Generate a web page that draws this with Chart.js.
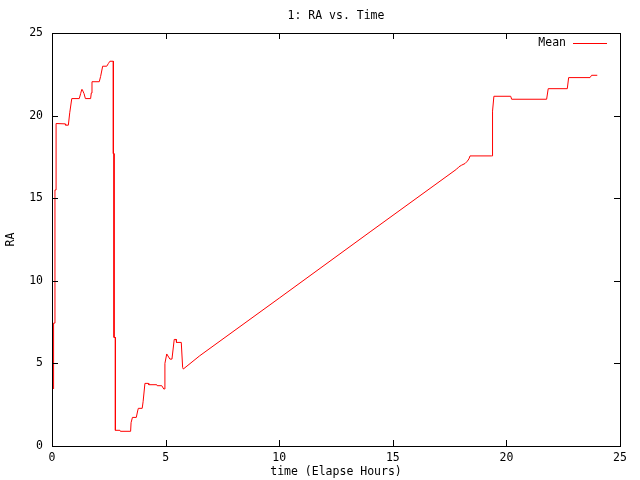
<!DOCTYPE html>
<html>
<head>
<meta charset="utf-8">
<title>1: RA vs. Time</title>
<script src="https://cdn.jsdelivr.net/npm/chart.js@4/dist/chart.umd.min.js"></script>
<style>
  html, body { margin: 0; padding: 0; background: #fff; }
  canvas { display: block; }
</style>
</head>
<body>
<canvas id="raChart" width="640" height="480"></canvas>
<script>
// values
const chartTitle = '1: RA vs. Time';
const xTitle = 'time (Elapse Hours)';
const yTitle = 'RA';
const seriesName = 'Mean';
const axisTicks = [0, 5, 10, 15, 20, 25];

const hours = [
    0.07, 0.07, 0.13, 0.13, 0.18, 0.18, 0.58, 0.60, 0.72, 0.78, 0.87,
    1.20, 1.26, 1.31, 1.33, 1.41, 1.47, 1.70, 1.73, 1.76,
    2.08, 2.14, 2.23, 2.41, 2.48, 2.55, 2.70, 2.70, 2.73, 2.73, 2.79, 2.79, 2.99,
    3.01, 3.46, 3.48, 3.54, 3.71, 3.77, 3.80, 3.97,
    4.01, 4.09, 4.24, 4.26, 4.61, 4.63, 4.83, 4.92, 4.95,
    4.97, 5.05, 5.19, 5.28, 5.38, 5.46, 5.48, 5.69, 5.75, 5.78,
    6.50, 10.00, 14.00, 17.81, 17.91, 18.03, 18.18, 18.28, 18.35, 18.40,
    19.34, 19.37, 19.37, 19.41, 19.45, 20.19, 20.23, 21.77, 21.84,
    22.68, 22.74, 23.68, 23.75, 24.00
];
const raMean = [
    3.45, 7.44, 7.44, 15.50, 15.50, 19.52, 19.50, 19.42, 19.42, 20.17, 21.03,
    21.03, 21.33, 21.58, 21.58, 21.33, 21.03, 21.03, 21.37, 22.05,
    22.05, 22.37, 22.99, 22.99, 23.15, 23.29, 23.29, 17.70, 17.70, 6.57, 6.57, 0.95, 0.95,
    0.89, 0.89, 1.41, 1.73, 1.73, 2.12, 2.28, 2.28,
    2.68, 3.79, 3.79, 3.71, 3.71, 3.65, 3.65, 3.45, 3.45,
    5.00, 5.57, 5.26, 5.26, 6.45, 6.45, 6.27, 6.27, 4.76, 4.66,
    5.46, 8.95, 12.96, 16.76, 16.90, 17.00, 17.10, 17.24, 17.38, 17.56,
    17.56, 17.56, 18.45, 20.27, 21.17, 21.17, 20.99, 20.99, 21.63,
    21.63, 22.30, 22.30, 22.44, 22.44
];

const lineColor = '#ff0000';
const monoFont = '"DejaVu Sans Mono", "Liberation Mono", monospace';

const points = hours.map((h, i) => ({ x: h, y: raMean[i] }));

// gnuplot-like frame: border, inward ticks on all sides, titles and key
const gnuplotFrame = {
    id: 'gnuplotFrame',
    beforeDraw(chart) {
        const c = chart.ctx;
        c.save();
        c.fillStyle = '#fff';
        c.fillRect(0, 0, chart.width, chart.height);
        c.restore();
    },
    afterDraw(chart) {
        const c = chart.ctx;
        const a = chart.chartArea;
        const xs = chart.scales.x;
        const ys = chart.scales.y;
        c.save();
        c.strokeStyle = '#000';
        c.lineWidth = 1;
        c.strokeRect(Math.round(a.left) + 0.5, Math.round(a.top) + 0.5,
            Math.round(a.right - a.left), Math.round(a.bottom - a.top));

        c.beginPath();
        axisTicks.forEach(v => {
            const px = Math.round(xs.getPixelForValue(v)) + 0.5;
            c.moveTo(px, a.bottom); c.lineTo(px, a.bottom - 6);
            c.moveTo(px, a.top); c.lineTo(px, a.top + 6);
            const py = Math.round(ys.getPixelForValue(v)) + 0.5;
            c.moveTo(a.left, py); c.lineTo(a.left + 6, py);
            c.moveTo(a.right, py); c.lineTo(a.right - 6, py);
        });
        c.stroke();

        c.fillStyle = '#000';
        c.font = '11.5px ' + monoFont;
        c.textAlign = 'center';
        c.textBaseline = 'middle';
        const midX = (a.left + a.right) / 2;
        c.fillText(chartTitle, midX, 16);
        c.fillText(xTitle, midX, 472);

        c.save();
        c.translate(11, (a.top + a.bottom) / 2);
        c.rotate(-Math.PI / 2);
        c.fillText(yTitle, 0, 0);
        c.restore();

        // key, top right
        const ds = chart.data.datasets[0];
        c.textAlign = 'right';
        c.fillText(ds.label, 566, 43);
        c.strokeStyle = ds.borderColor;
        c.beginPath();
        c.moveTo(573, 43.5);
        c.lineTo(607, 43.5);
        c.stroke();
        c.restore();
    }
};

new Chart(document.getElementById('raChart').getContext('2d'), {
    type: 'line',
    data: {
        datasets: [{
            label: seriesName,
            data: points,
            borderColor: lineColor,
            backgroundColor: lineColor,
            borderWidth: 1,
            pointRadius: 0,
            tension: 0,
            fill: false
        }]
    },
    options: {
        responsive: false,
        animation: false,
        devicePixelRatio: 1,
        layout: { padding: { top: 33, right: 20, left: 0, bottom: 0 } },
        plugins: {
            legend: { display: false },
            title: { display: false },
            tooltip: { enabled: false }
        },
        scales: {
            x: {
                type: 'linear',
                min: 0,
                max: 25,
                afterFit: s => { s.height = 34; },
                afterBuildTicks: s => { s.ticks = axisTicks.map(v => ({ value: v })); },
                grid: { display: false, drawTicks: false },
                border: { display: false },
                ticks: {
                    padding: 5,
                    color: '#000',
                    font: { family: monoFont, size: 11.5 }
                }
            },
            y: {
                type: 'linear',
                min: 0,
                max: 25,
                afterFit: s => { s.width = 52; },
                afterBuildTicks: s => { s.ticks = axisTicks.map(v => ({ value: v })); },
                grid: { display: false, drawTicks: false },
                border: { display: false },
                ticks: {
                    padding: 9,
                    color: '#000',
                    font: { family: monoFont, size: 11.5 }
                }
            }
        }
    },
    plugins: [gnuplotFrame]
});
</script>
</body>
</html>
